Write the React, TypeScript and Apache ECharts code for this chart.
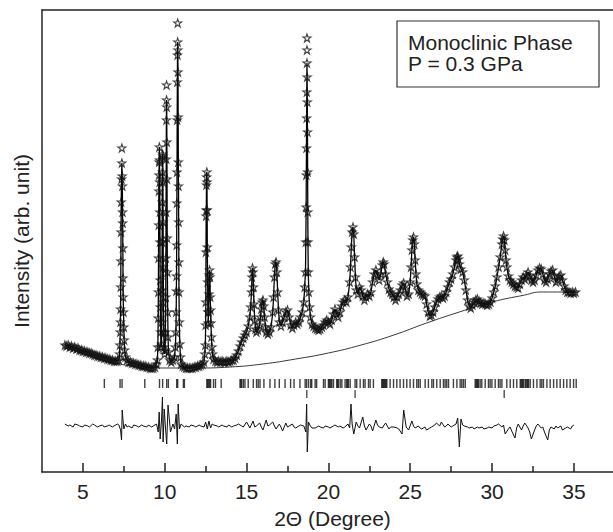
import React, { useEffect, useRef } from "react";
import * as echarts from "echarts";

// ---- data (2θ in degrees, intensity in arbitrary units) ----
const profile: number[][] = [
  [3.9,127],[4.0,126],[4.1,127],[4.2,125],[4.3,126],[4.4,124],[4.5,125],[4.6,123],[4.7,124],[4.8,122],[4.9,122],[5.0,121],[5.1,121],[5.2,120],[5.3,120],[5.4,119],[5.5,119],[5.6,118],[5.7,117],[5.8,117],[5.9,116],[6.0,116],[6.1,115],[6.2,115],[6.3,114],[6.4,114],[6.5,113],[6.6,113],[6.7,112],[6.8,112],[6.9,111],[7.0,111],[7.1,111],[7.2,112],
  [7.24,118],[7.26,127],[7.28,140],[7.29,150],[7.30,163],[7.31,185],[7.32,211],[7.33,240],[7.34,270],[7.36,293],[7.38,309],[7.40,296],[7.41,286],[7.42,260],[7.43,249],[7.44,224],[7.45,194],[7.46,175],[7.48,160],[7.50,145],[7.52,132],[7.55,122],[7.60,115],[7.7,112],
  [7.8,110],[7.9,110],[8.0,109],[8.1,109],[8.2,108],[8.3,108],[8.4,107],[8.5,107],[8.6,106],[8.7,106],[8.8,106],[8.9,105],[9.0,105],[9.1,104],[9.2,104],[9.3,104],[9.4,105],[9.5,108],
  [9.55,112],[9.58,125],[9.60,154],[9.61,180],[9.62,214],[9.63,247],[9.64,281],[9.65,297],[9.66,310],[9.67,325],[9.68,312],[9.69,290],[9.70,260],[9.71,230],[9.72,192],[9.73,165],[9.75,140],[9.77,125],
  [9.80,128],[9.82,150],[9.83,182],[9.84,230],[9.85,270],[9.86,300],[9.87,318],[9.88,316],[9.89,290],[9.90,250],[9.91,205],[9.92,170],[9.94,140],[9.96,125],[9.99,118],
  [10.02,122],[10.04,140],[10.06,175],[10.07,214],[10.08,260],[10.09,313],[10.10,352],[10.11,372],[10.12,365],[10.13,330],[10.14,293],[10.15,234],[10.16,200],[10.18,160],[10.20,135],[10.23,120],[10.30,112],[10.40,110],[10.50,112],
  [10.60,115],[10.65,125],[10.68,140],[10.70,160],[10.71,181],[10.72,196],[10.73,227],[10.74,269],[10.75,300],[10.76,352],[10.77,390],[10.78,417],[10.79,430],[10.80,422],[10.81,400],[10.82,355],[10.83,310],[10.84,286],[10.85,250],[10.86,210],[10.87,180],[10.89,150],[10.92,128],[10.96,115],
  [11.0,108],[11.1,106],[11.2,105],[11.3,104],[11.4,104],[11.5,104],[11.6,104],[11.7,104],[11.8,105],[11.9,105],[12.0,106],[12.1,106],[12.2,107],[12.3,108],[12.4,110],
  [12.45,118],[12.48,127],[12.50,147],[12.51,170],[12.52,220],[12.53,256],[12.54,262],[12.55,287],[12.56,295],[12.57,300],[12.58,290],[12.59,262],[12.60,225],[12.62,190],[12.64,160],[12.66,149],[12.68,160],[12.70,178],[12.72,197],[12.74,202],[12.76,195],[12.78,175],[12.80,162],[12.82,149],[12.85,135],[12.88,125],[12.92,118],[12.98,113],
  [13.1,111],[13.2,110],[13.3,111],[13.4,110],[13.5,111],[13.6,110],[13.7,110],[13.8,111],[13.9,110],[14.0,111],[14.1,112],[14.2,112],[14.3,114],[14.4,117],[14.5,121],
  [14.6,126],[14.7,130],[14.8,134],[14.9,137],[15.0,140],[15.1,146],[15.2,155],[15.25,165],[15.3,180],[15.33,195],[15.36,204],[15.39,200],[15.42,185],[15.45,168],[15.5,152],[15.55,143],[15.6,140],[15.7,142],[15.8,147],[15.85,155],[15.9,163],[15.95,170],[16.0,172],[16.05,166],[16.1,155],[16.15,145],[16.2,140],[16.3,138],[16.4,140],[16.5,145],[16.6,160],[16.65,175],[16.7,195],[16.75,208],[16.8,210],[16.85,200],[16.9,180],[16.95,162],[17.0,150],[17.1,146],[17.2,150],[17.3,155],[17.4,160],[17.5,162],[17.6,155],[17.7,147],[17.8,144],[17.9,147],[18.0,150],[18.1,148],[18.2,150],[18.3,155],[18.4,160],[18.5,170],[18.55,185],
  [18.6,200],[18.62,230],[18.64,265],[18.65,297],[18.66,324],[18.67,354],[18.68,380],[18.69,409],[18.70,395],[18.71,370],[18.72,340],[18.73,300],[18.74,260],[18.75,230],[18.77,200],[18.8,180],[18.85,165],[18.9,155],[19.0,148],
  [19.1,146],[19.2,144],[19.3,143],[19.4,142],[19.5,143],[19.6,145],[19.7,147],[19.8,150],[19.9,152],[20.0,150],[20.1,148],[20.2,152],[20.3,158],[20.4,163],[20.5,158],[20.6,155],[20.7,160],[20.8,166],[20.9,170],[21.0,172],[21.1,170],[21.2,175],[21.3,190],[21.35,205],[21.4,225],[21.45,240],[21.5,245],[21.55,238],[21.6,215],[21.65,195],[21.7,182],[21.8,178],[21.9,185],[22.0,182],[22.1,176],[22.2,172],[22.3,175],[22.4,178],[22.5,176],[22.6,180],[22.7,190],[22.8,198],[22.9,202],[23.0,197],[23.1,192],[23.2,198],[23.3,207],[23.35,210],[23.4,208],[23.5,198],[23.6,190],[23.7,183],[23.8,180],[23.9,178],[24.0,175],[24.1,172],[24.2,175],[24.3,178],[24.4,182],[24.5,187],[24.6,189],[24.7,183],[24.8,176],[24.9,178],[25.0,190],[25.05,205],[25.1,222],[25.15,232],[25.2,235],[25.25,228],[25.3,212],[25.35,198],[25.4,188],[25.5,182],[25.6,180],[25.7,178],[25.8,177],[25.9,176],[26.0,168],[26.1,160],[26.2,156],[26.3,157],[26.4,160],[26.5,165],[26.6,170],[26.7,173],[26.8,175],[26.9,176],[27.0,174],[27.1,176],[27.2,180],[27.3,185],[27.4,190],[27.5,193],[27.6,198],[27.7,205],[27.8,212],[27.85,215],[27.9,216],[27.95,213],[28.0,208],[28.1,203],[28.2,200],[28.3,192],[28.4,182],[28.5,172],[28.6,166],[28.7,164],[28.8,167],[28.9,170],[29.0,172],[29.1,173],[29.2,171],[29.3,169],[29.4,168],[29.5,169],[29.6,168],[29.7,167],[29.8,168],[29.9,170],[30.0,174],[30.1,180],[30.2,186],[30.3,195],[30.4,205],[30.5,215],[30.6,228],[30.65,233],[30.7,236],[30.75,232],[30.8,222],[30.85,212],[30.9,205],[31.0,196],[31.1,192],[31.2,190],[31.3,188],[31.4,186],[31.5,185],[31.6,184],[31.7,188],[31.8,192],[31.9,195],[32.0,193],[32.1,197],[32.2,200],[32.3,196],[32.4,192],[32.5,190],[32.6,192],[32.7,197],[32.8,202],[32.9,204],[33.0,203],[33.1,198],[33.2,192],[33.3,190],[33.4,193],[33.5,198],[33.6,201],[33.7,202],[33.8,196],[33.9,190],[34.0,192],[34.1,196],[34.2,197],[34.3,192],[34.4,186],[34.5,182],[34.6,180],[34.7,180],[34.8,179],[34.9,180],[35.0,179],[35.1,180]
];

// observed points standing above the calculated peak tops
const apexExtra: number[][] = [[7.38,324],[10.11,387],[10.79,449],[18.69,422],[18.69,434]];

const background: number[][] = [
  [3.9,126],[5,119],[6,113],[7,109],[8,106],[10,104],[12,104],[14,105],[16,108],[18,113],[20,119],[22,127],[24,137],[26,149],[28,160],[30,170],[32,177],[33,180],[34,180],[35.1,179]
];

const difference: number[][] = [
  [3.9,2],[4.1,0],[4.2,1],[4.4,-1],[4.5,2],[4.7,1],[4.8,0],[5.0,-1],[5.1,1],[5.3,0],[5.4,-1],[5.6,2],[5.7,1],[5.9,-1],[6.0,0],[6.2,1],[6.3,-1],[6.5,0],[6.6,1],[6.8,-1],[6.9,0],[7.1,2],[7.2,1],[7.3,-4],[7.36,-14],[7.40,16],[7.45,6],[7.5,-3],[7.6,2],[7.7,-1],[7.8,0],[8.0,-2],[8.1,1],[8.3,0],[8.4,-1],[8.6,1],[8.7,0],[8.9,-1],[9.0,1],[9.2,-1],[9.3,0],[9.5,2],[9.6,-6],[9.66,14],[9.72,-13],[9.8,5],[9.86,29],[9.9,-16],[9.97,17],[10.05,-3],[10.12,-18],[10.2,21],[10.35,-6],[10.5,2],[10.6,-3],[10.7,12],[10.77,-18],[10.82,22],[10.9,-3],[11.0,2],[11.2,-1],[11.3,0],[11.5,-1],[11.6,1],[11.8,0],[11.9,-1],[12.1,1],[12.2,0],[12.4,-1],[12.5,4],[12.6,-3],[12.7,5],[12.8,-2],[12.9,2],[13.0,1],[13.2,0],[13.3,-1],[13.5,1],[13.6,0],[13.8,-1],[13.9,1],[14.1,-1],[14.2,0],[14.4,1],[14.5,2],[14.7,0],[14.8,-1],[15.0,4],[15.1,1],[15.2,-2],[15.4,5],[15.5,-1],[15.6,0],[15.8,3],[15.9,-1],[16.0,-4],[16.2,6],[16.3,0],[16.4,1],[16.6,4],[16.7,0],[16.8,-3],[17.0,2],[17.1,-1],[17.2,-5],[17.4,3],[17.5,-1],[17.6,0],[17.8,2],[17.9,-1],[18.0,-2],[18.2,0],[18.3,1],[18.5,0],[18.62,-6],[18.67,22],[18.71,-26],[18.78,4],[18.9,0],[19.0,-2],[19.2,-2],[19.4,0],[19.5,-1],[19.7,-2],[19.8,0],[20.0,-1],[20.1,-2],[20.3,0],[20.4,1],[20.6,-1],[20.7,0],[20.9,-2],[21.0,-1],[21.2,2],[21.3,-2],[21.38,22],[21.45,2],[21.55,-8],[21.7,4],[21.8,0],[21.9,-2],[22.1,9],[22.2,0],[22.3,-4],[22.5,2],[22.6,0],[22.7,-5],[22.9,6],[23.0,1],[23.1,-1],[23.3,-2],[23.4,1],[23.5,3],[23.7,-3],[23.8,-1],[24.0,-1],[24.2,-2],[24.3,-3],[24.5,-8],[24.6,16],[24.75,-1],[24.9,-4],[25.1,5],[25.2,0],[25.3,-2],[25.5,0],[25.6,-2],[25.7,-3],[25.9,-1],[26.0,-4],[26.2,-2],[26.3,-1],[26.5,1],[26.6,3],[26.8,0],[26.9,4],[27.1,-1],[27.2,0],[27.3,2],[27.5,-1],[27.6,0],[27.8,2],[27.9,8],[28.0,-21],[28.1,7],[28.2,1],[28.3,0],[28.5,-1],[28.6,-2],[28.8,-1],[28.9,-3],[29.1,-1],[29.2,-2],[29.4,-1],[29.5,-3],[29.7,-2],[29.8,-1],[30.0,-2],[30.1,0],[30.3,1],[30.4,2],[30.6,-1],[30.7,1],[30.8,-8],[31.0,-3],[31.1,-1],[31.2,-5],[31.4,-12],[31.5,-2],[31.6,2],[31.8,-4],[31.9,0],[32.0,3],[32.2,-2],[32.3,-6],[32.4,-13],[32.6,-4],[32.7,0],[32.8,2],[33.0,-2],[33.1,-1],[33.2,-6],[33.4,-14],[33.5,-4],[33.6,-1],[33.8,-3],[33.9,0],[34.0,-2],[34.2,0],[34.3,-4],[34.5,-2],[34.6,-1],[34.8,-3],[34.9,0],[35.0,1]
];

const braggPhase1: number[] = [
  6.31,7.27,7.39,8.78,9.68,9.87,10.12,10.22,10.73,10.79,11.14,11.20,12.57,12.62,12.68,12.75,12.80,12.98,13.10,13.45,
  14.60,14.65,14.70,14.80,14.90,15.10,15.41,15.61,15.71,15.82,16.06,16.43,16.73,17.00,17.35,17.69,17.90,18.26,18.58,18.67,18.79,18.92,18.98,19.19,19.28,
  19.70,19.80,20.00,20.05,20.10,20.16,20.21,20.31,20.51,20.56,20.61,20.72,20.82,21.02,21.12,21.17,21.22,21.33,21.63,21.73,21.94,22.14,22.24,22.45,22.55,22.75,
  23.26,23.31,23.36,23.42,23.47,23.52,23.57,23.77,23.98,24.18,24.38,24.59,24.79,24.99,25.20,25.40,25.50,25.61,25.91,26.11,26.32,26.42,26.62,26.83,
  27.03,27.13,27.23,27.34,27.64,27.85,28.05,28.15,28.25,28.36,28.97,29.02,29.07,29.12,29.17,29.27,29.37,29.58,29.78,29.88,29.99,30.19,30.39,30.49,30.60,30.90,
  31.11,31.31,31.51,31.72,31.77,31.82,31.87,31.92,32.02,32.07,32.13,32.18,32.23,32.33,32.53,32.74,32.94,33.04,33.14,33.35,33.55,33.76,33.96,34.16,34.37,34.57,34.77,34.98,35.14
];
const braggPhase2: number[] = [18.68, 21.63, 30.74];

const majorTicks = [5, 10, 15, 20, 25, 30, 35];
const minorTicks = [7.5, 12.5, 17.5, 22.5, 27.5, 32.5];

const legendLines = ["Monoclinic Phase", "P = 0.3 GPa"];

// levels (in intensity units) of the auxiliary rows
const ROW1 = 88.5;
const ROW2 = 78;
const DIFF_OFFSET = 46;

const FONT = "'Liberation Sans', Arial, Helvetica, sans-serif";
const STAR = "path://M50,2 L61,36 L97,36 L68,57 L79,92 L50,70 L21,92 L32,57 L3,36 L39,36 Z";

export default function App() {
  const ref = useRef<HTMLDivElement>(null);
  useEffect(() => {
    if (!ref.current) return;
    const chart = echarts.init(ref.current, undefined, { renderer: "svg" });
    const axisColor = "#222";
    chart.setOption({
      animation: false,
      backgroundColor: "#fff",
      textStyle: { fontFamily: FONT },
      grid: { left: 42, top: 10, width: 581, height: 462, show: false, containLabel: false, outerBoundsMode: "none" },
      xAxis: [
        {
          type: "value", min: 2.5, max: 38, position: "bottom",
          name: "2\u0398 (Degree)", nameLocation: "middle", nameGap: 36,
          nameTextStyle: { fontSize: 21, color: axisColor, fontFamily: FONT },
          axisLine: { show: true, lineStyle: { color: axisColor, width: 1.5 } },
          axisTick: { show: true, inside: true, length: 9, customValues: majorTicks, lineStyle: { color: axisColor, width: 1.5 } },
          axisLabel: { show: true, customValues: majorTicks, fontSize: 21, color: axisColor, margin: 9, fontFamily: FONT },
          splitLine: { show: false },
        },
        {
          type: "value", min: 2.5, max: 38, position: "top", gridIndex: 0,
          axisLine: { show: true, lineStyle: { color: axisColor, width: 1.5 } },
          axisTick: { show: false },
          axisLabel: { show: false },
          splitLine: { show: false },
        },
        {
          type: "value", min: 2.5, max: 38, position: "bottom", gridIndex: 0,
          axisLine: { show: false },
          axisTick: { show: true, inside: true, length: 6, customValues: minorTicks, lineStyle: { color: axisColor, width: 1.5 } },
          axisLabel: { show: false },
          splitLine: { show: false },
        },
      ],
      yAxis: {
        type: "value", min: 0, max: 462,
        name: "Intensity (arb. unit)", nameLocation: "middle", nameGap: 10,
        nameTextStyle: { fontSize: 21, color: axisColor, fontFamily: FONT },
        axisLine: { show: true, lineStyle: { color: axisColor, width: 1.5 } },
        axisTick: { show: false }, axisLabel: { show: false }, splitLine: { show: false },
      },
      series: [
        {
          type: "line", name: "background", data: background, smooth: true, showSymbol: false, silent: true,
          lineStyle: { color: "#222", width: 0.9 }, z: 2,
        },
        {
          type: "line", name: "calculated", data: profile, showSymbol: false, silent: true,
          lineStyle: { color: "#000", width: 1.3 }, z: 3,
        },
        {
          type: "scatter", name: "observed", data: profile.concat(apexExtra), symbol: STAR, symbolSize: 8, silent: true,
          itemStyle: { color: "rgba(255,255,255,0)", borderColor: "#111", borderWidth: 1.1 }, z: 4,
        },
        {
          type: "scatter", name: "phase1", data: braggPhase1.map((v) => [v, ROW1]), symbol: "rect", symbolSize: [1.4, 9], silent: true,
          itemStyle: { color: "#111" }, z: 4,
        },
        {
          type: "scatter", name: "phase2", data: braggPhase2.map((v) => [v, ROW2]), symbol: "rect", symbolSize: [1.3, 8], silent: true,
          itemStyle: { color: "#111" }, z: 4,
        },
        {
          type: "line", name: "difference", data: difference.map(([x, d]) => [x, d + DIFF_OFFSET]), showSymbol: false, silent: true,
          lineStyle: { color: "#111", width: 1 }, z: 3,
        },
      ],
      graphic: [
        { type: "rect", shape: { x: 397, y: 21, width: 202, height: 66 }, style: { fill: "#fff", stroke: "#333", lineWidth: 1.2 }, z: 101 },
        ...legendLines.map((t, i) => ({
          type: "text", x: 408, y: 42 + i * 21, z: 102,
          style: { text: t, fontSize: 21, fill: "#222", fontFamily: FONT, verticalAlign: "middle", align: "left" },
        })),
      ],
    });
    return () => chart.dispose();
  }, []);
  return <div ref={ref} style={{ position: "fixed", left: 0, top: 0, width: 613, height: 532 }} />;
}
